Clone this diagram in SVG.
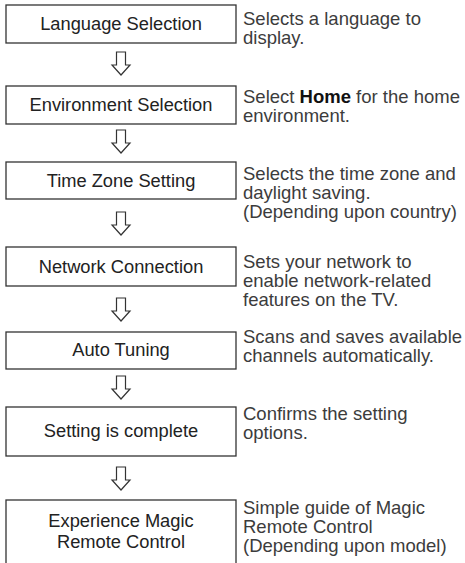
<svg xmlns="http://www.w3.org/2000/svg" width="465" height="563" viewBox="0 0 465 563">
<defs>
<style>
.box{fill:#fff;stroke:#333;stroke-width:1.3}
.lbl{font-family:"Liberation Sans",Arial,sans-serif;font-size:18.3px;fill:#222;text-anchor:middle}
.desc{font-family:"Liberation Sans",Arial,sans-serif;font-size:18.5px;fill:#3c3c3c}
.arr{fill:#fff;stroke:#333;stroke-width:1.2;stroke-linejoin:miter}
</style>
<path id="ar" d="M-4.5,0 H4.5 V13 H9 L0,23 L-9,13 H-4.5 Z"/>
</defs>
<rect width="465" height="563" fill="#fff"/>
<g id="connectors">
<use href="#ar" class="arr" x="121" y="52"/>
<use href="#ar" class="arr" x="121" y="130"/>
<use href="#ar" class="arr" x="121" y="212"/>
<use href="#ar" class="arr" x="121" y="298"/>
<use href="#ar" class="arr" x="121" y="376"/>
<use href="#ar" class="arr" x="121" y="467"/>
</g>
<g id="n1">
<rect class="box" x="6" y="5" width="230" height="38"/>
<text class="lbl" x="121" y="30">Language Selection</text>
<text class="desc" x="243" y="25">Selects a language to<tspan x="243" dy="19">display.</tspan></text>
</g>
<g id="n2">
<rect class="box" x="6" y="86" width="230" height="38"/>
<text class="lbl" x="121" y="111">Environment Selection</text>
<text class="desc" x="243" y="103">Select <tspan font-weight="bold" fill="#111">Home</tspan> for the home<tspan x="243" dy="19">environment.</tspan></text>
</g>
<g id="n3">
<rect class="box" x="6" y="162" width="230" height="37"/>
<text class="lbl" x="121" y="187">Time Zone Setting</text>
<text class="desc" x="243" y="180">Selects the time zone and<tspan x="243" dy="19">daylight saving.</tspan><tspan x="243" dy="19">(Depending upon country)</tspan></text>
</g>
<g id="n4">
<rect class="box" x="6" y="247" width="230" height="39"/>
<text class="lbl" x="121" y="273">Network Connection</text>
<text class="desc" x="243" y="268">Sets your network to<tspan x="243" dy="19">enable network-related</tspan><tspan x="243" dy="19">features on the TV.</tspan></text>
</g>
<g id="n5">
<rect class="box" x="6" y="332" width="230" height="37"/>
<text class="lbl" x="121" y="356">Auto Tuning</text>
<text class="desc" x="243" y="343">Scans and saves available<tspan x="243" dy="19">channels automatically.</tspan></text>
</g>
<g id="n6">
<rect class="box" x="6" y="407" width="230" height="49"/>
<text class="lbl" x="121" y="437">Setting is complete</text>
<text class="desc" x="243" y="420">Confirms the setting<tspan x="243" dy="19">options.</tspan></text>
</g>
<g id="n7">
<rect class="box" x="6" y="500" width="230" height="80"/>
<text class="lbl" x="121" y="527">Experience Magic<tspan x="121" dy="21">Remote Control</tspan></text>
<text class="desc" x="243" y="514">Simple guide of Magic<tspan x="243" dy="19">Remote Control</tspan><tspan x="243" dy="19">(Depending upon model)</tspan></text>
</g>
</svg>
